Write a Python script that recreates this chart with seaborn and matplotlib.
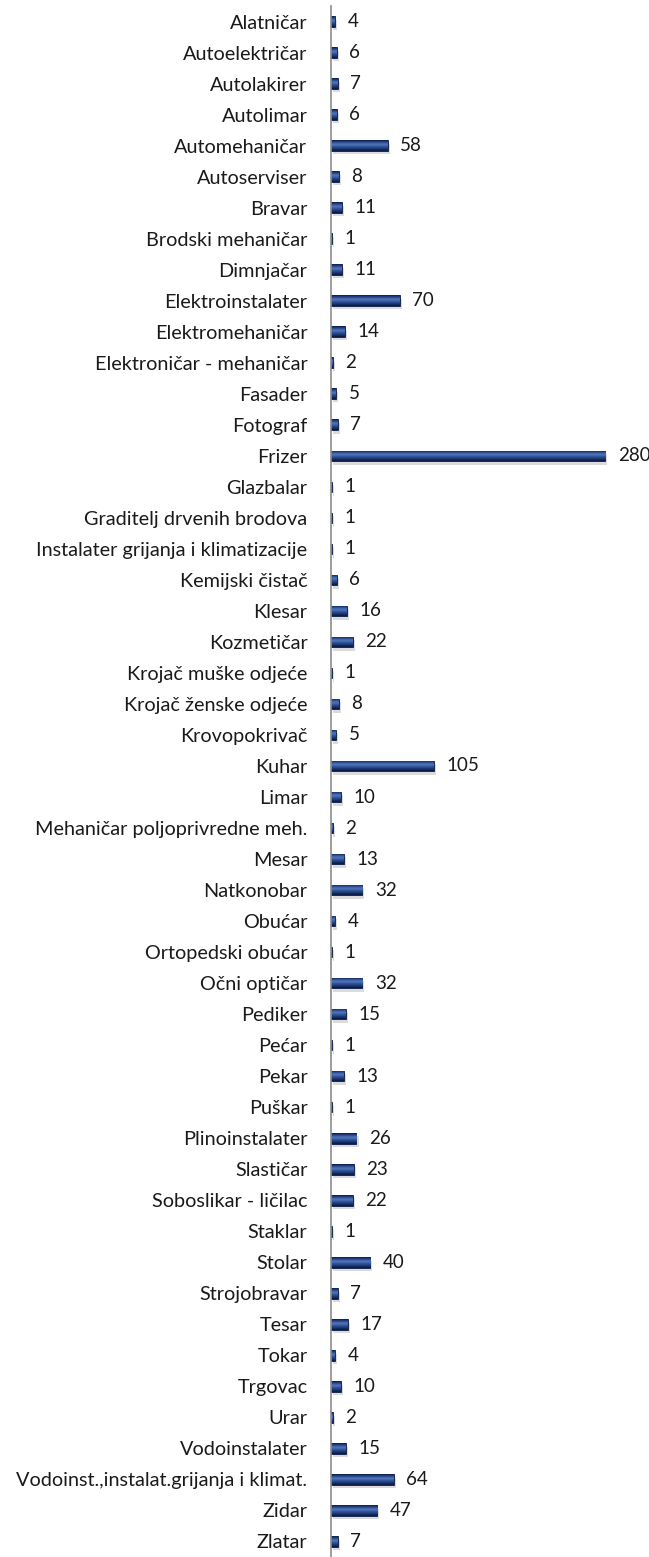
import numpy as np
import pandas as pd
import matplotlib
matplotlib.use("Agg")
import matplotlib.pyplot as plt
import matplotlib.patheffects as pe
from matplotlib.colors import LinearSegmentedColormap
import seaborn as sns

occupations = [
    "Alatničar", "Autoelektričar", "Autolakirer", "Autolimar", "Automehaničar",
    "Autoserviser", "Bravar", "Brodski mehaničar", "Dimnjačar", "Elektroinstalater",
    "Elektromehaničar", "Elektroničar - mehaničar", "Fasader", "Fotograf", "Frizer",
    "Glazbalar", "Graditelj drvenih brodova", "Instalater grijanja i klimatizacije",
    "Kemijski čistač", "Klesar", "Kozmetičar", "Krojač muške odjeće",
    "Krojač ženske odjeće", "Krovopokrivač", "Kuhar", "Limar",
    "Mehaničar poljoprivredne meh.", "Mesar", "Natkonobar", "Obućar",
    "Ortopedski obućar", "Očni optičar", "Pediker", "Pećar", "Pekar", "Puškar",
    "Plinoinstalater", "Slastičar", "Soboslikar - ličilac", "Staklar", "Stolar",
    "Strojobravar", "Tesar", "Tokar", "Trgovac", "Urar", "Vodoinstalater",
    "Vodoinst.,instalat.grijanja i klimat.", "Zidar", "Zlatar",
]
counts = [
    4, 6, 7, 6, 58, 8, 11, 1, 11, 70, 14, 2, 5, 7, 280, 1, 1, 1, 6, 16, 22, 1,
    8, 5, 105, 10, 2, 13, 32, 4, 1, 32, 15, 1, 13, 1, 26, 23, 22, 1, 40, 7,
    17, 4, 10, 2, 15, 64, 47, 7,
]

df = pd.DataFrame({"occupation": occupations, "count": counts})

sns.set_theme(style="white")
plt.rcParams["font.family"] = ["Lato", "DejaVu Sans"]

fig = plt.figure(figsize=(6.49, 15.57), dpi=100)
ax = fig.add_axes([331 / 649, 0.0, 294 / 649, 1 - 6 / 1557])

sns.barplot(data=df, x="count", y="occupation", orient="h", color="#1c3877",
            width=0.34, ax=ax, errorbar=None, saturation=1)

# bevelled navy fill with a soft drop shadow
bevel = LinearSegmentedColormap.from_list(
    "bevel", ["#0a1b46", "#2a4b90", "#5578bd", "#31549a", "#1a3672", "#08173e"])
grad = np.linspace(0, 1, 64).reshape(-1, 1)
for bar in ax.patches:
    x0, y0 = bar.get_x(), bar.get_y()
    w, h = bar.get_width(), bar.get_height()
    bar.set_edgecolor("#0a1a44")
    bar.set_linewidth(0.6)
    bar.set_path_effects([
        pe.SimplePatchShadow(offset=(1.5, -2.5), shadow_rgbFace="#9a9a9a", alpha=0.35),
        pe.Normal(),
    ])
    img = ax.imshow(grad, cmap=bevel, aspect="auto", extent=(x0, x0 + w, y0 + h, y0),
                    zorder=bar.get_zorder() + 0.1, interpolation="bilinear")
    img.set_clip_path(bar)

for i, v in enumerate(counts):
    ax.annotate(str(v), xy=(v, i), xytext=(9, 0), textcoords="offset points",
                va="center", ha="left", fontsize=13.5, color="#1a1a1a")

ax.set_xlim(0, 300)
ax.set_ylim(len(counts) - 0.5, -0.5)
ax.set_xlabel("")
ax.set_ylabel("")
ax.set_xticks([])
ax.tick_params(axis="y", length=0, pad=17, labelsize=14.3, labelcolor="#1a1a1a")
for side in ("top", "right", "bottom"):
    ax.spines[side].set_visible(False)
ax.spines["left"].set_color("#8c8c8c")
ax.spines["left"].set_linewidth(1.2)

fig.savefig("out.png", dpi=100)
